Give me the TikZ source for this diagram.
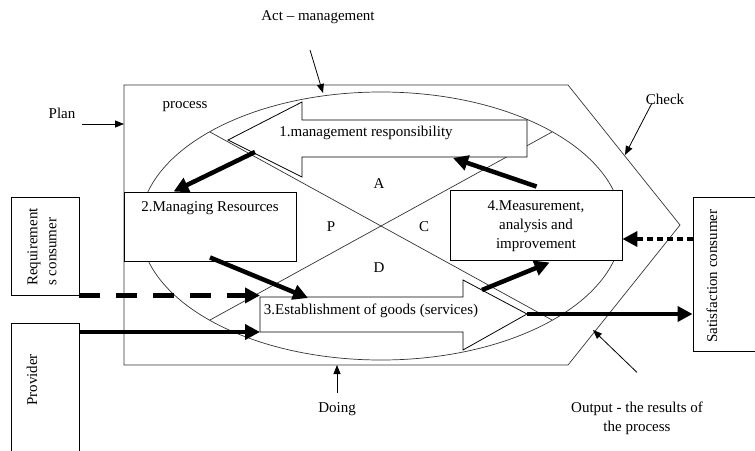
\documentclass[tikz,border=0pt]{standalone}
\usepackage{fontspec}
\setmainfont{Liberation Serif}
\usetikzlibrary{arrows.meta,calc}

\begin{document}
\begin{tikzpicture}[x=1pt,y=-1pt,
  lbl/.style={font=\fontsize{15}{19}\selectfont, inner sep=0pt},
  thinline/.style={line width=0.7pt, draw=black!80},
  box/.style={draw, line width=0.9pt, fill=white},
  pointer/.style={line width=0.8pt, -{Triangle[length=9pt,width=7pt]}},
  flow/.style={line width=4.5pt, -{Triangle[length=15pt,width=15pt]}},
  dashflow/.style={flow, dash pattern=on 21pt off 16pt},
  dotflow/.style={flow, dash pattern=on 6pt off 4pt},
]
\useasboundingbox (0,0) rectangle (755,450);

% process boundary and the PDCA ellipse
\draw[thinline] (124,85) -- (568,85) -- (680,225) -- (568,365) -- (124,365) -- cycle;
\draw[thinline] (381,226) ellipse [x radius=241pt, y radius=134pt];
\draw[thinline] (210,132) -- (552,320);
\draw[thinline] (210,320) -- (552,132);

% corner points of the two block arrows
\coordinate (m-tip) at (228,140);
\coordinate (m-br)  at (527,157);
\coordinate (e-tl)  at (260,297);
\coordinate (e-bl)  at (260,332);
\coordinate (e-tip) at (527,314);

% 1. management responsibility (pointing left)
\draw[box, line width=0.8pt] (m-tip) -- (302,102) -- (302,120) -- (527,120)
  -- (m-br) -- (302,157) -- (302,177) -- cycle;
\node[lbl] (mresp) at (366,133) {1.management responsibility};

% 3. establishment of goods (pointing right)
\draw[box, line width=0.8pt] (e-tl) -- (463,297) -- (463,280) -- (e-tip)
  -- (463,350) -- (463,332) -- (e-bl) -- cycle;
\node[lbl] (estab) at (371,311) {3.Establishment of goods (services)};

% quadrant letters
\node[lbl] (qa) at (379,184) {A};
\node[lbl] (qp) at (331,227) {P};
\node[lbl] (qc) at (424,227) {C};
\node[lbl] (qd) at (379,268) {D};

% process boxes
\node[box, minimum width=172pt, minimum height=69pt, inner sep=0pt] (mr) at (210,226.5) {};
\node[lbl] (mrtext) at (210,208) {2.Managing Resources};
\node[box, minimum width=172pt, minimum height=70pt, inner sep=0pt] (ma) at (536,225) {};
\node[lbl, align=center] (matext) at (536,226) {4.Measurement,\\analysis and\\improvement};

% external parties
\node[box, minimum width=68pt, minimum height=98pt, inner sep=0pt] (req) at (45,246) {};
\node[lbl, rotate=90, align=left] (reqtext) at (42,247) {Requirement\\s consumer};
\node[box, minimum width=68pt, minimum height=130pt, inner sep=0pt] (prov) at (45,388) {};
\node[lbl, rotate=90] (provtext) at (32,380) {Provider};
\node[box, minimum width=74pt, minimum height=154pt, inner sep=0pt] (sat) at (730,274) {};
\node[lbl, rotate=90] (sattext) at (712,276) {Satisfaction consumer};

% outer labels
\node[lbl] (act) at (318,17) {Act – management};
\node[lbl] (plan) at (62,113) {Plan};
\node[lbl] (proc) at (185,107) {process};
\node[lbl] (check) at (665,99) {Check};
\node[lbl] (doing) at (337,409) {Doing};
\node[lbl, align=center] (outp) at (637,418) {Output - the results of\\the process};

% label pointers
\coordinate (act-from) at (310,50);
\coordinate (act-to) at (323,93);
\draw[pointer] (act-from) -- (act-to);
\draw[pointer] (82,124) coordinate (plan-from) -- (124,124) coordinate (plan-to);
\draw[pointer] (652,103) coordinate (check-from) -- (625,155) coordinate (check-to);
\draw[pointer] ($(doing.north)+(0,-9)$) -- (337,365) coordinate (doing-to);
\draw[pointer] ($(outp.north)+(0,-29)$) -- (593,330) coordinate (out-to);

% cycle flows
\coordinate (f1) at (255,152);
\draw[flow] (f1) -- ($(mr.north west)+(50,0)$);
\draw[flow] ($(mr.south)+(0,-4)$) -- ($(e-tl)+(48,1)$);
\draw[flow] ($(ma.north west)+(87,-3)$) -- ($(m-br)+(-74,1)$);
\coordinate (f4) at (482,290);
\draw[flow] (f4) -- ($(ma.south west)+(100,2)$);

% inputs and outputs
\draw[dashflow] (req.south east) -- (req.south east -| e-tl);
\draw[flow] (e-bl -| prov.east) -- (e-bl);
\coordinate (mq) at ($(ma.east)+(0,14)$);
\draw[dotflow] (sat.west |- mq) -- (mq);
\draw[flow] (e-tip) -- (sat.west |- e-tip);
\end{tikzpicture}
\end{document}
